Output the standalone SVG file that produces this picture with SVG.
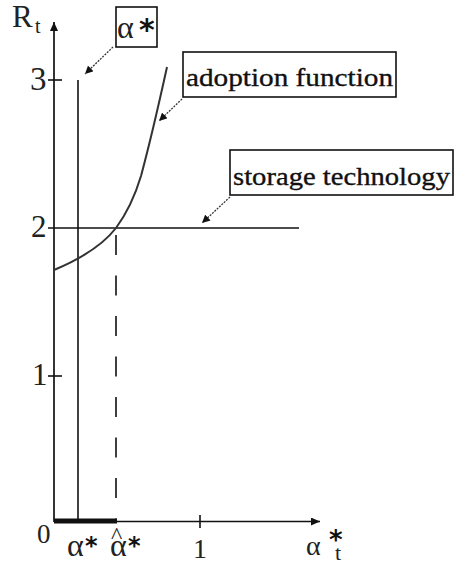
<svg xmlns="http://www.w3.org/2000/svg" width="458" height="562" viewBox="0 0 458 562">
  <style>
    .ax { stroke: #111; stroke-width: 1.7; fill: none; }
    .ln { stroke: #111; stroke-width: 1.6; fill: none; }
    .curve { stroke: #333; stroke-width: 2; fill: none; }
    .ptr { stroke: #333; stroke-width: 1.3; fill: none; stroke-dasharray: 2 1.2; }
    .box { fill: #fff; stroke: #111; stroke-width: 1.6; }
    .lbl { font-family: "Liberation Serif", serif; font-size: 26px; fill: #111; stroke: #111; stroke-width: 0.35; }
    .num { font-family: "Liberation Serif", serif; fill: #222; }
    .sym { font-family: "Liberation Serif", serif; fill: #222; }
    .ast { font-family: "DejaVu Sans", sans-serif; font-weight: bold; fill: #111; }
  </style>
  <defs>
    <marker id="axhead" markerWidth="10" markerHeight="8" refX="9" refY="4" orient="auto" markerUnits="userSpaceOnUse">
      <path d="M0,0 L9,4 L0,8 Z" fill="#111"/>
    </marker>
    <marker id="ptrhead" markerWidth="9" markerHeight="8" refX="8" refY="4" orient="auto" markerUnits="userSpaceOnUse">
      <path d="M0,0 L8,4 L0,8 Z" fill="#111"/>
    </marker>
  </defs>
  <rect width="458" height="562" fill="#fff"/>

  <!-- axes, ticks and reference lines -->
  <g id="connectors">
    <line class="ax" x1="54" y1="522" x2="54" y2="22" marker-end="url(#axhead)"/>
    <line class="ax" x1="54" y1="521.5" x2="320" y2="521.5" marker-end="url(#axhead)"/>
    <line class="ln" x1="48" y1="80" x2="62" y2="80"/>
    <line class="ln" x1="48" y1="376" x2="62" y2="376"/>
    <line class="ln" x1="200" y1="515" x2="200" y2="528"/>
    <!-- storage technology level -->
    <line class="ln" x1="48" y1="228" x2="299" y2="228"/>
    <!-- alpha* threshold -->
    <line class="ln" x1="78" y1="80" x2="78" y2="521"/>
    <!-- alpha-hat* dashed drop line -->
    <line class="ln" x1="116" y1="235" x2="116" y2="519" stroke-dasharray="20 20.5"/>
    <!-- interval [0, alpha-hat*] -->
    <rect x="54" y="518.5" width="63" height="5" fill="#111"/>
    <!-- adoption function curve -->
    <path class="curve" d="M54,270 C78,260 102,246 116,228 C127,213 135,196 141,176 C148,150 158,108 167,67"/>
    <!-- label pointers -->
    <line class="ptr" x1="113" y1="47" x2="85" y2="74" marker-end="url(#ptrhead)"/>
    <line class="ptr" x1="182" y1="99" x2="159" y2="121" marker-end="url(#ptrhead)"/>
    <line class="ptr" x1="230" y1="197" x2="202" y2="223" marker-end="url(#ptrhead)"/>
  </g>

  <!-- axis labels -->
  <g id="axis-labels">
    <text class="sym" x="12" y="27" font-size="31">R</text>
    <text class="sym" x="35" y="33" font-size="20">t</text>
    <text class="num" x="30" y="90" font-size="33">3</text>
    <text class="num" x="31" y="237" font-size="31">2</text>
    <text class="num" x="32" y="385" font-size="31">1</text>
    <text class="num" x="37" y="543" font-size="27">0</text>
    <text class="num" x="200" y="558" font-size="28" text-anchor="middle">1</text>
    <text class="sym" x="67" y="556" font-size="32">α</text>
    <text class="ast" x="85" y="554" font-size="24">*</text>
    <text class="sym" x="111" y="543" font-size="24">^</text>
    <text class="sym" x="110" y="556" font-size="32">α</text>
    <text class="ast" x="128" y="554" font-size="24">*</text>
    <text class="sym" x="306" y="555" font-size="28">α</text>
    <text class="ast" x="329" y="549" font-size="26">*</text>
    <text class="sym" x="335" y="560" font-size="22">t</text>
  </g>

  <!-- callout boxes -->
  <g id="alpha-star-label">
    <rect class="box" x="116" y="7" width="41" height="40"/>
    <text class="sym" x="117" y="38" font-size="32">α</text>
    <text class="ast" x="139" y="40" font-size="30">*</text>
  </g>
  <g id="adoption-function-label">
    <rect class="box" x="183" y="52" width="213" height="45"/>
    <text class="lbl" x="186" y="86" textLength="207" lengthAdjust="spacingAndGlyphs">adoption function</text>
  </g>
  <g id="storage-technology-label">
    <rect class="box" x="230" y="150" width="223" height="45"/>
    <text class="lbl" x="233" y="185" textLength="217" lengthAdjust="spacingAndGlyphs">storage technology</text>
  </g>
</svg>
